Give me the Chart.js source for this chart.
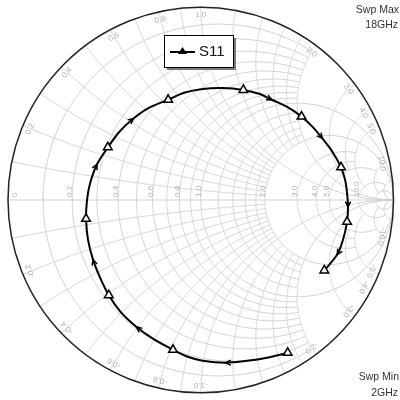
<!DOCTYPE html>
<html>
<head>
<meta charset="utf-8">
<script src="https://cdn.jsdelivr.net/npm/chart.js@4.4.0/dist/chart.umd.min.js"></script>
<style>
  html, body { margin: 0; padding: 0; background: #fff; }
  #wrap { width: 400px; height: 400px; position: relative; }
</style>
</head>
<body>
<div id="wrap"><canvas id="c" width="400" height="400"></canvas></div>
<script>
// S11 reflection coefficient over the 2–18 GHz sweep (real / imaginary parts)
const s11Re = [0.451, 0.344, 0.241, 0.128, 0.010, -0.067, -0.144, -0.246, -0.333, -0.415,
               -0.477, -0.523, -0.559, -0.585, -0.595, -0.590, -0.574, -0.538, -0.482, -0.421,
               -0.349, -0.267, -0.169, -0.087, 0.010, 0.113, 0.221, 0.303, 0.369, 0.446,
               0.523, 0.579, 0.631, 0.682, 0.728, 0.749, 0.759, 0.764, 0.759, 0.738,
               0.708, 0.641];
const s11Im = [-0.790, -0.815, -0.831, -0.841, -0.831, -0.810, -0.774, -0.718, -0.656, -0.579,
               -0.492, -0.400, -0.308, -0.205, -0.097, 0.000, 0.087, 0.185, 0.272, 0.354,
               0.421, 0.477, 0.518, 0.554, 0.574, 0.579, 0.569, 0.549, 0.518, 0.482,
               0.431, 0.379, 0.318, 0.251, 0.169, 0.103, 0.036, -0.036, -0.113, -0.205,
               -0.282, -0.364];
// sweep points carrying a marker symbol
const markerIdx = [0, 6, 10, 14, 18, 22, 26, 30, 34, 38, 41];
// sweep points where a direction arrow is drawn
const arrowIdx = [3, 8, 12, 17, 20, 28, 32, 37, 40];
const seriesName = 'S11';

// Smith chart grid: constant-resistance circles and their |x| extent
const gridR      = [0.1, 0.2, 0.3, 0.4, 0.5, 0.6, 0.7, 0.8, 0.9, 1.0, 1.2, 1.4, 1.6, 1.8, 2.0, 3.0, 4.0, 5.0, 10, 20];
const gridRLimit = [2, 2, 2, 2, 2, 2, 2, 2, 2, Infinity, 2, 2, 2, 2, Infinity, 5, 5, 10, 20, Infinity];
// constant-reactance arcs and their r extent
const gridX      = [0.1, 0.2, 0.3, 0.4, 0.5, 0.6, 0.7, 0.8, 0.9, 1.0, 1.2, 1.4, 1.6, 1.8, 2.0, 3.0, 4.0, 5.0, 10, 20];
const gridXLimit = [2, 2, 2, 2, 2, 2, 2, 2, 2, Infinity, 2, 2, 2, 2, Infinity, 5, 5, 10, 20, Infinity];

// grid labels
const rLabelVals = [0, 0.2, 0.4, 0.6, 0.8, 1.0, 2.0, 3.0, 4.0, 5.0, 10.0];
const xLabelVals = [0.2, 0.4, 0.6, 0.8, 1.0, 2.0, 3.0, 4.0, 5.0, 10.0];
const sweepMaxText = ['Swp Max', '18GHz'];
const sweepMinText = ['Swp Min', '2GHz'];

function gammaOf(r, x) {
  const d = (r + 1) * (r + 1) + x * x;
  return [(r * r + x * x - 1) / d, (2 * x) / d];
}

const smithGrid = {
  id: 'smithGrid',
  beforeDatasetsDraw(chart) {
    const { ctx, scales: { x: sx, y: sy } } = chart;
    const px = g => [sx.getPixelForValue(g[0]), sy.getPixelForValue(g[1])];
    const N = 360;
    ctx.save();
    ctx.strokeStyle = '#cfcfcf';
    ctx.lineWidth = 1;

    // constant-resistance circles
    gridR.forEach((r, i) => {
      const a = Math.atan(gridRLimit[i]);
      ctx.beginPath();
      for (let k = 0; k <= N; k++) {
        const t = -1 + 2 * k / N;
        const p = px(gammaOf(r, Math.tan(t * a)));
        k === 0 ? ctx.moveTo(p[0], p[1]) : ctx.lineTo(p[0], p[1]);
      }
      ctx.stroke();
    });

    // constant-reactance arcs (both signs)
    gridX.forEach((xv, i) => {
      const a = Math.atan(gridXLimit[i]);
      [1, -1].forEach(s => {
        ctx.beginPath();
        for (let k = 0; k <= N; k++) {
          const t = k / N;
          const p = px(gammaOf(Math.tan(t * a), s * xv));
          k === 0 ? ctx.moveTo(p[0], p[1]) : ctx.lineTo(p[0], p[1]);
        }
        ctx.stroke();
      });
    });

    // real axis
    const l = px([-1, 0]), rgt = px([1, 0]);
    ctx.beginPath(); ctx.moveTo(l[0], l[1]); ctx.lineTo(rgt[0], rgt[1]); ctx.stroke();

    // labels
    ctx.fillStyle = '#b0b0b0';
    ctx.font = '8px "Liberation Sans", Arial, sans-serif';
    ctx.textBaseline = 'middle';
    rLabelVals.forEach(r => {
      const p = px(gammaOf(r, 0));
      ctx.save();
      ctx.translate(p[0] + (r === 0 ? 7 : -2), p[1] - 3);
      ctx.rotate(-Math.PI / 2);
      ctx.textAlign = 'left';
      ctx.fillText(r === 0 ? '0' : r.toFixed(1), 0, 0);
      ctx.restore();
    });
    const c = px([0, 0]);
    const rad = sx.getPixelForValue(1) - c[0];
    xLabelVals.forEach(xv => {
      [1, -1].forEach(s => {
        const g = gammaOf(0, s * xv);
        const phi = Math.atan2(g[1], g[0]);
        const rr = rad - 8;
        ctx.save();
        ctx.translate(c[0] + rr * Math.cos(phi), c[1] - rr * Math.sin(phi));
        ctx.rotate(Math.PI / 2 - phi);
        ctx.textAlign = 'center';
        ctx.fillText((s < 0 ? '-' : '') + xv.toFixed(1), 0, 0);
        ctx.restore();
      });
    });

    // outer boundary |Γ| = 1
    ctx.strokeStyle = '#222';
    ctx.lineWidth = 1.5;
    ctx.beginPath(); ctx.arc(c[0], c[1], rad, 0, Math.PI * 2); ctx.stroke();
    ctx.restore();
  },
  afterDatasetsDraw(chart) {
    const { ctx } = chart;
    const meta = chart.getDatasetMeta(0);
    const pts = meta.data;
    ctx.save();
    // direction arrows along the trace
    ctx.strokeStyle = '#000';
    ctx.lineWidth = 1.5;
    arrowIdx.forEach(i => {
      const p = pts[i], a = pts[i - 1], b = pts[i + 1];
      const ang = Math.atan2(b.y - a.y, b.x - a.x);
      const L = 6;
      ctx.beginPath();
      ctx.moveTo(p.x - L * Math.cos(ang - 0.45), p.y - L * Math.sin(ang - 0.45));
      ctx.lineTo(p.x, p.y);
      ctx.lineTo(p.x - L * Math.cos(ang + 0.45), p.y - L * Math.sin(ang + 0.45));
      ctx.stroke();
    });

    // legend box
    const bx = 164, by = 35, bw = 69, bh = 32;
    ctx.fillStyle = '#7a7a7a';
    ctx.fillRect(bx + 3, by + 3, bw, bh);
    ctx.fillStyle = '#fff';
    ctx.fillRect(bx, by, bw, bh);
    ctx.strokeStyle = '#000';
    ctx.lineWidth = 1;
    ctx.strokeRect(bx + 0.5, by + 0.5, bw, bh);
    ctx.lineWidth = 2;
    ctx.beginPath(); ctx.moveTo(bx + 6, by + 17); ctx.lineTo(bx + 31, by + 17); ctx.stroke();
    ctx.fillStyle = '#000';
    ctx.beginPath();
    ctx.moveTo(bx + 18.5, by + 12); ctx.lineTo(bx + 23, by + 19); ctx.lineTo(bx + 14, by + 19);
    ctx.closePath(); ctx.fill();
    ctx.font = '15px "Liberation Sans", Arial, sans-serif';
    ctx.textAlign = 'left';
    ctx.textBaseline = 'middle';
    ctx.fillStyle = '#111';
    ctx.fillText(chart.data.datasets[0].label, bx + 35, by + 17);

    // sweep annotations
    ctx.font = '10.5px "Liberation Sans", Arial, sans-serif';
    ctx.fillStyle = '#333';
    ctx.textAlign = 'right';
    ctx.fillText(sweepMaxText[0], 399, 10);
    ctx.fillText(sweepMaxText[1], 398, 25);
    ctx.fillText(sweepMinText[0], 399, 377);
    ctx.fillText(sweepMinText[1], 398, 393);
    ctx.restore();
  }
};

const points = s11Re.map((re, i) => ({ x: re, y: s11Im[i] }));

new Chart(document.getElementById('c'), {
  type: 'scatter',
  data: {
    datasets: [{
      label: seriesName,
      data: points,
      showLine: true,
      tension: 0.3,
      borderColor: '#000',
      borderWidth: 2,
      pointStyle: 'triangle',
      pointRadius: points.map((_, i) => markerIdx.includes(i) ? 5 : 0),
      pointBackgroundColor: '#fff',
      pointBorderColor: '#000',
      pointBorderWidth: 1.5,
      clip: false
    }]
  },
  options: {
    responsive: false,
    animation: false,
    devicePixelRatio: 1,
    layout: { padding: { left: 8, right: 2, top: 5, bottom: 5 } },
    scales: {
      x: { type: 'linear', min: -1, max: 1, display: false },
      y: { type: 'linear', min: -1, max: 1, display: false }
    },
    plugins: { legend: { display: false }, tooltip: { enabled: false } }
  },
  plugins: [smithGrid]
});
</script>
</body>
</html>
